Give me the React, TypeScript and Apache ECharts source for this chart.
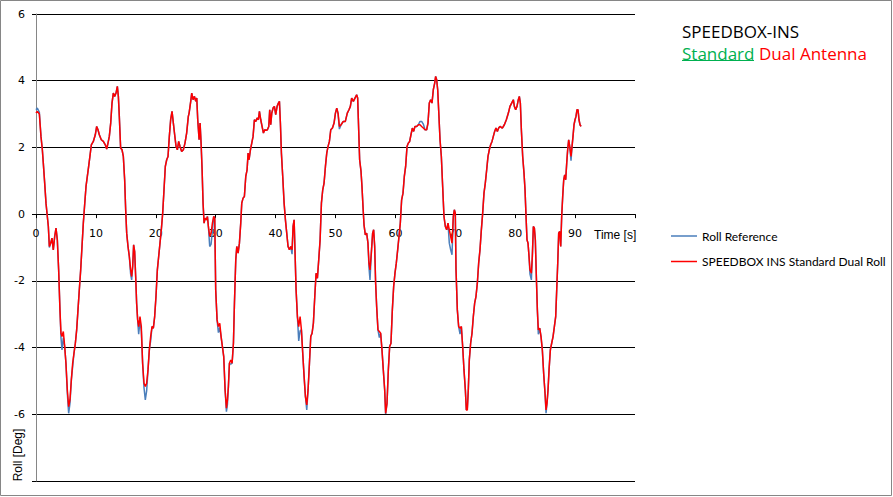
import { useEffect, useRef } from "react";
import * as echarts from "echarts";

// Time [s]
const times = [
  0, 0.22, 0.56, 0.83, 1.06, 1.22, 1.45, 1.67, 1.89, 2.06,
  2.23, 2.45, 2.67, 2.89, 3.12, 3.34, 3.56, 3.78, 4.0, 4.17,
  4.34, 4.56, 4.79, 5.0, 5.23, 5.45, 5.67, 5.9, 6.12, 6.34,
  6.57, 6.79, 7.01, 7.23, 7.46, 7.68, 7.9, 8.1, 8.35, 8.57,
  8.79, 9.0, 9.24, 9.57, 9.9, 10.13, 10.35, 10.57, 10.9, 11.24,
  11.57, 11.8, 12.02, 12.24, 12.47, 12.69, 12.91, 13.13, 13.36, 13.58,
  13.75, 13.91, 14.13, 14.36, 14.58, 14.8, 14.97, 15.14, 15.36, 15.58,
  15.8, 15.97, 16.14, 16.3, 16.47, 16.64, 16.8, 16.97, 17.14, 17.36,
  17.58, 17.8, 18.03, 18.25, 18.47, 18.7, 18.92, 19.14, 19.37, 19.59,
  19.81, 20.03, 20.26, 20.48, 20.7, 20.92, 21.15, 21.37, 21.59, 21.82,
  22.04, 22.26, 22.48, 22.71, 22.93, 23.15, 23.38, 23.6, 23.82, 24.04,
  24.32, 24.6, 24.87, 25.15, 25.43, 25.56, 25.83, 26.0, 26.22, 26.45,
  26.67, 26.84, 27.0, 27.23, 27.39, 27.56, 27.73, 27.89, 28.06, 28.23,
  28.45, 28.62, 28.78, 29.0, 29.23, 29.45, 29.67, 29.84, 30.0, 30.23,
  30.45, 30.68, 30.9, 31.12, 31.34, 31.57, 31.79, 31.96, 32.12, 32.29,
  32.51, 32.74, 32.96, 33.13, 33.35, 33.52, 33.74, 33.96, 34.18, 34.35,
  34.57, 34.79, 35.02, 35.24, 35.41, 35.57, 35.8, 36.02, 36.24, 36.46,
  36.69, 36.91, 37.13, 37.3, 37.52, 37.74, 37.97, 38.19, 38.41, 38.63,
  38.86, 39.02, 39.19, 39.36, 39.58, 39.8, 40.02, 40.25, 40.47, 40.64,
  40.8, 40.97, 41.19, 41.42, 41.64, 41.86, 42.08, 42.31, 42.53, 42.75,
  42.92, 43.09, 43.25, 43.42, 43.64, 43.86, 44.09, 44.31, 44.53, 44.76,
  44.98, 45.2, 45.42, 45.65, 45.87, 46.09, 46.31, 46.54, 46.76, 46.98,
  47.2, 47.43, 47.65, 47.87, 48.09, 48.32, 48.54, 48.76, 48.98, 49.21,
  49.49, 49.76, 49.99, 50.21, 50.43, 50.65, 50.93, 51.3, 51.64, 51.97,
  52.25, 52.48, 52.7, 52.98, 53.25, 53.53, 53.7, 53.87, 54.03, 54.26,
  54.42, 54.59, 54.76, 54.98, 55.2, 55.42, 55.59, 55.76, 55.98, 56.2,
  56.37, 56.54, 56.7, 56.87, 57.09, 57.32, 57.54, 57.76, 57.98, 58.21,
  58.37, 58.6, 58.82, 59.04, 59.26, 59.49, 59.71, 59.93, 60.15, 60.38,
  60.6, 60.82, 61.04, 61.27, 61.49, 61.71, 61.94, 62.16, 62.38, 62.6,
  62.83, 63.05, 63.27, 63.55, 63.83, 64.11, 64.38, 64.66, 64.94, 65.22,
  65.44, 65.66, 65.89, 66.11, 66.33, 66.56, 66.72, 66.89, 67.06, 67.22,
  67.45, 67.67, 67.89, 68.11, 68.34, 68.56, 68.78, 69.0, 69.23, 69.45,
  69.67, 69.84, 70.0, 70.12, 70.34, 70.56, 70.79, 71.01, 71.23, 71.45,
  71.68, 71.84, 72.01, 72.17, 72.34, 72.56, 72.79, 73.01, 73.23, 73.45,
  73.68, 73.9, 74.12, 74.35, 74.57, 74.79, 75.01, 75.24, 75.46, 75.68,
  75.9, 76.13, 76.35, 76.57, 76.79, 77.02, 77.24, 77.46, 77.85, 78.19,
  78.52, 78.86, 79.13, 79.41, 79.69, 79.86, 80.08, 80.3, 80.52, 80.69,
  80.86, 81.03, 81.25, 81.47, 81.64, 81.81, 81.97, 82.14, 82.31, 82.47,
  82.7, 82.86, 83.03, 83.2, 83.36, 83.53, 83.7, 83.86, 84.09, 84.31,
  84.53, 84.75, 84.98, 85.15, 85.31, 85.48, 85.65, 85.87, 86.09, 86.32,
  86.54, 86.76, 86.93, 87.1, 87.26, 87.43, 87.6, 87.76, 87.93, 88.1,
  88.26, 88.43, 88.6, 88.76, 88.93, 89.1, 89.32, 89.49, 89.65, 89.82,
  89.99, 90.15, 90.32, 90.49, 90.65, 90.82, 90.99,
];

// Roll Reference [Deg]
const refRoll = [
  3.13, 3.18, 3.05, 2.33, 1.93, 1.53, 0.93, 0.33, -0.07, -0.37,
  -1.0, -0.87, -0.72, -1.07, -0.67, -0.42, -0.77, -1.67, -2.87, -3.7,
  -4.07, -3.7, -3.97, -4.47, -5.37, -5.97, -5.67, -4.97, -4.57, -4.17,
  -3.87, -3.47, -2.87, -2.27, -1.67, -0.97, -0.27, 0.23, 0.83, 1.13,
  1.43, 1.73, 2.08, 2.18, 2.38, 2.63, 2.53, 2.38, 2.23, 2.18,
  2.08, 1.95, 2.13, 2.33, 2.73, 3.33, 3.63, 3.53, 3.63, 3.83,
  3.53, 2.93, 1.98, 1.93, 1.73, 1.03, 0.13, -0.57, -0.97, -1.27,
  -1.8, -1.97, -1.57, -0.92, -1.12, -1.87, -2.67, -3.17, -3.6, -3.2,
  -3.5, -4.47, -5.2, -5.57, -5.3, -4.67, -4.07, -3.8, -3.37, -3.42,
  -3.07, -2.47, -1.67, -1.27, -0.87, -0.47, 0.03, 0.73, 1.43, 1.63,
  1.73, 2.33, 2.83, 3.08, 2.73, 2.38, 2.03, 1.93, 2.18, 2.03,
  1.88, 1.93, 2.13, 2.43, 2.93, 3.03, 3.38, 3.63, 3.43, 3.53,
  3.38, 3.48, 2.83, 2.23, 2.73, 2.13, 1.33, 0.33, -0.27, -0.12,
  -0.17, -0.07, -0.37, -0.97, -0.9, -0.5, -0.07, -0.12, -2.27, -3.17,
  -3.55, -3.4, -3.67, -3.97, -4.27, -5.27, -5.92, -5.7, -5.17, -4.47,
  -4.5, -4.47, -3.87, -2.67, -1.37, -0.97, -1.17, -0.87, -0.27, 0.33,
  0.48, 0.53, 1.13, 1.33, 1.83, 1.63, 1.93, 2.13, 2.33, 2.83,
  2.78, 2.88, 2.83, 3.08, 2.83, 2.63, 2.43, 2.53, 2.51, 2.53,
  2.63, 3.13, 2.68, 3.03, 3.18, 3.23, 2.98, 3.23, 3.33, 3.38,
  2.73, 1.83, 1.13, 0.33, -0.17, -0.57, -0.97, -1.07, -0.97, -1.2,
  -0.37, -0.17, -1.17, -2.27, -3.07, -3.8, -3.5, -3.47, -4.17, -4.87,
  -5.47, -5.87, -5.27, -4.47, -3.67, -3.57, -3.27, -2.47, -1.77, -1.92,
  -1.37, -0.77, 0.33, 0.73, 0.93, 1.43, 1.83, 2.03, 2.18, 2.53,
  2.58, 2.73, 3.03, 3.18, 3.0, 2.55, 2.68, 2.78, 2.78, 3.03,
  3.13, 3.23, 3.48, 3.38, 3.48, 3.58, 3.48, 2.53, 1.63, 1.28,
  0.83, 0.23, -0.32, -0.62, -0.57, -0.87, -1.6, -1.97, -1.17, -0.57,
  -0.47, -0.97, -2.07, -2.77, -3.47, -3.7, -3.57, -4.07, -4.67, -5.27,
  -5.99, -5.67, -4.67, -3.97, -3.87, -2.87, -2.17, -1.77, -1.47, -1.07,
  -0.67, -0.27, 0.43, 0.63, 1.13, 1.43, 2.03, 2.13, 2.18, 2.38,
  2.58, 2.48, 2.63, 2.63, 2.68, 2.78, 2.78, 2.7, 2.53, 2.53,
  2.73, 3.33, 3.43, 3.33, 3.73, 3.93, 4.13, 4.03, 3.73, 3.13,
  2.23, 1.73, 0.83, -0.07, -0.37, -0.47, -0.27, -0.87, -1.07, -1.22,
  -0.07, 0.13, 0.03, -1.67, -2.87, -3.37, -3.6, -3.37, -3.97, -4.67,
  -5.27, -5.87, -5.8, -5.27, -4.37, -3.87, -3.57, -3.07, -2.67, -2.47,
  -2.07, -1.47, -1.07, -0.47, 0.03, 0.63, 0.93, 1.33, 1.73, 1.93,
  2.08, 2.18, 2.33, 2.48, 2.58, 2.48, 2.58, 2.63, 2.58, 2.68,
  2.83, 3.03, 3.23, 3.33, 3.43, 3.23, 3.13, 3.23, 3.43, 3.53,
  3.33, 2.53, 1.73, 1.23, 0.73, -0.07, -0.77, -0.87, -1.27, -1.8,
  -1.97, -1.27, -0.37, -0.42, -0.77, -1.87, -2.87, -3.6, -3.42, -3.67,
  -4.07, -4.77, -5.37, -5.97, -5.67, -5.27, -4.67, -4.07, -3.87, -3.67,
  -3.37, -3.07, -2.27, -1.47, -0.57, -0.52, -0.97, -0.07, 0.53, 1.03,
  1.18, 1.03, 1.53, 1.93, 2.23, 2.03, 1.6, 2.03, 2.33, 2.68,
  2.83, 2.93, 3.13, 3.13, 2.83, 2.68, 2.63,
];

// SPEEDBOX INS Standard Dual Roll [Deg]
const insRoll = [
  3.03, 3.08, 3.0, 2.33, 1.93, 1.53, 0.93, 0.33, -0.07, -0.37,
  -0.97, -0.87, -0.72, -1.07, -0.67, -0.42, -0.77, -1.67, -2.87, -3.57,
  -3.67, -3.52, -3.97, -4.47, -5.27, -5.77, -5.57, -4.97, -4.47, -4.17,
  -3.87, -3.47, -2.87, -2.27, -1.67, -0.97, -0.27, 0.23, 0.83, 1.13,
  1.43, 1.73, 2.08, 2.18, 2.38, 2.63, 2.53, 2.38, 2.23, 2.18,
  2.08, 1.95, 2.13, 2.33, 2.73, 3.33, 3.63, 3.53, 3.63, 3.83,
  3.53, 2.93, 1.98, 1.93, 1.73, 1.03, 0.13, -0.57, -0.97, -1.27,
  -1.67, -1.87, -1.57, -0.92, -1.12, -1.87, -2.67, -3.17, -3.37, -3.07,
  -3.37, -4.47, -5.07, -5.17, -5.07, -4.67, -4.07, -3.67, -3.37, -3.42,
  -3.07, -2.47, -1.67, -1.27, -0.87, -0.47, 0.03, 0.73, 1.43, 1.63,
  1.73, 2.33, 2.83, 3.08, 2.73, 2.38, 2.03, 1.93, 2.18, 2.03,
  1.88, 1.93, 2.13, 2.43, 2.93, 3.03, 3.38, 3.63, 3.43, 3.53,
  3.38, 3.48, 2.83, 2.23, 2.73, 2.13, 1.33, 0.33, -0.27, -0.12,
  -0.17, -0.07, -0.37, -0.67, -0.57, -0.27, -0.07, -0.12, -2.27, -3.17,
  -3.37, -3.27, -3.67, -3.97, -4.27, -5.27, -5.82, -5.57, -5.17, -4.47,
  -4.37, -4.47, -3.87, -2.67, -1.37, -0.97, -1.17, -0.87, -0.27, 0.33,
  0.48, 0.53, 1.13, 1.33, 1.83, 1.63, 1.93, 2.13, 2.33, 2.83,
  2.78, 2.88, 2.83, 3.08, 2.83, 2.63, 2.43, 2.53, 2.51, 2.53,
  2.63, 3.13, 2.68, 3.03, 3.18, 3.23, 2.98, 3.23, 3.33, 3.38,
  2.73, 1.83, 1.13, 0.33, -0.17, -0.57, -0.97, -1.07, -0.97, -1.07,
  -0.37, -0.17, -1.17, -2.27, -3.07, -3.37, -3.07, -3.47, -4.17, -4.87,
  -5.47, -5.72, -5.27, -4.47, -3.67, -3.57, -3.27, -2.47, -1.77, -1.92,
  -1.37, -0.77, 0.33, 0.73, 0.93, 1.43, 1.83, 2.03, 2.18, 2.53,
  2.58, 2.73, 3.03, 3.18, 3.03, 2.63, 2.68, 2.78, 2.78, 3.03,
  3.13, 3.23, 3.48, 3.38, 3.48, 3.58, 3.48, 2.53, 1.63, 1.28,
  0.83, 0.23, -0.32, -0.62, -0.57, -0.87, -1.47, -1.67, -1.17, -0.57,
  -0.47, -0.97, -2.07, -2.77, -3.47, -3.52, -3.57, -4.07, -4.67, -5.27,
  -5.97, -5.67, -4.67, -3.97, -3.87, -2.87, -2.17, -1.77, -1.47, -1.07,
  -0.67, -0.27, 0.43, 0.63, 1.13, 1.43, 2.03, 2.13, 2.18, 2.38,
  2.58, 2.48, 2.63, 2.63, 2.68, 2.68, 2.63, 2.58, 2.53, 2.53,
  2.73, 3.33, 3.43, 3.33, 3.73, 3.93, 4.13, 4.03, 3.73, 3.13,
  2.23, 1.73, 0.83, -0.07, -0.37, -0.47, -0.27, -0.47, -0.67, -0.87,
  -0.07, 0.13, 0.03, -1.67, -2.87, -3.37, -3.42, -3.37, -3.97, -4.67,
  -5.27, -5.87, -5.87, -5.27, -4.37, -3.87, -3.57, -3.07, -2.67, -2.47,
  -2.07, -1.47, -1.07, -0.47, 0.03, 0.63, 0.93, 1.33, 1.73, 1.93,
  2.08, 2.18, 2.33, 2.48, 2.58, 2.48, 2.58, 2.63, 2.58, 2.68,
  2.83, 3.03, 3.23, 3.33, 3.43, 3.23, 3.13, 3.23, 3.43, 3.53,
  3.33, 2.53, 1.73, 1.23, 0.73, -0.07, -0.77, -0.87, -1.27, -1.67,
  -1.77, -1.27, -0.37, -0.42, -0.77, -1.87, -2.87, -3.47, -3.42, -3.67,
  -4.07, -4.77, -5.37, -5.87, -5.67, -5.27, -4.67, -4.07, -3.87, -3.67,
  -3.37, -3.07, -2.27, -1.47, -0.57, -0.52, -0.97, -0.07, 0.53, 1.03,
  1.18, 1.03, 1.53, 1.93, 2.23, 2.03, 1.73, 2.03, 2.33, 2.68,
  2.83, 2.93, 3.13, 3.13, 2.83, 2.68, 2.63,
];

const seriesNames = ["Roll Reference", "SPEEDBOX INS Standard Dual Roll"];
const titleLine1 = "SPEEDBOX-INS";
const titleGreen = "Standard";
const titleRed = "Dual Antenna";
const xAxisTitle = "Time [s]";
const yAxisTitle = "Roll [Deg]";

const Y_MIN = -8;
const Y_MAX = 6;
const GRID_TOP = 14;
const GRID_BOTTOM = 16;
const CHART_H = 497;

export default function App() {
  const ref = useRef<HTMLDivElement>(null);

  useEffect(() => {
    if (!ref.current) return;
    const chart = echarts.init(ref.current, null, { renderer: "svg" });
    const refData = times.map((t, i) => [t, refRoll[i]]);
    const insData = times.map((t, i) => [t, insRoll[i]]);

    // place the x axis on y = 0 (as in the original) by offsetting it from the bottom edge
    const plotH = CHART_H - GRID_TOP - GRID_BOTTOM;
    const zeroOffset = -(plotH * (0 - Y_MIN)) / (Y_MAX - Y_MIN);

    chart.setOption({
      animation: false,
      backgroundColor: "#ffffff",
      grid: {
        left: 36,
        right: 258,
        top: GRID_TOP,
        bottom: GRID_BOTTOM,
        containLabel: false,
        outerBoundsMode: "none",
      },
      xAxis: {
        type: "value",
        min: 0,
        max: 100,
        interval: 10,
        offset: zeroOffset,
        axisLine: { show: true, onZero: false, lineStyle: { color: "#000", width: 1 } },
        axisTick: { show: true, length: 4, lineStyle: { color: "#000" } },
        axisLabel: {
          margin: 14,
          color: "#000",
          fontFamily: "DejaVu Sans",
          fontSize: 11,
          formatter: (v: number) => (v === 100 ? "" : String(v)),
        },
        splitLine: { show: false },
      },
      yAxis: {
        type: "value",
        min: Y_MIN,
        max: Y_MAX,
        interval: 2,
        axisLine: { show: true, onZero: false, lineStyle: { color: "#868686", width: 1 } },
        axisTick: { show: true, length: 4, lineStyle: { color: "#000" } },
        axisLabel: {
          margin: 11,
          color: "#000",
          fontFamily: "DejaVu Sans",
          fontSize: 11,
          formatter: (v: number) => (v === -8 ? "" : String(v)),
        },
        splitLine: { show: true, lineStyle: { color: "#000", width: 1 } },
      },
      legend: {
        orient: "vertical",
        left: 671,
        top: 230,
        padding: 0,
        icon: "rect",
        itemWidth: 26,
        itemHeight: 1.5,
        itemGap: 13.5,
        textStyle: { fontFamily: "Lato", fontSize: 12, color: "#000" },
        data: seriesNames,
      },
      series: [
        {
          name: seriesNames[0],
          type: "line",
          data: refData,
          symbol: "none",
          showSymbol: false,
          lineStyle: { color: "#4A7EBB", width: 1.5 },
          itemStyle: { color: "#4A7EBB" },
        },
        {
          name: seriesNames[1],
          type: "line",
          data: insData,
          symbol: "none",
          showSymbol: false,
          lineStyle: { color: "#FF0000", width: 1.5 },
          itemStyle: { color: "#FF0000" },
        },
      ],
      graphic: [
        {
          type: "rect",
          silent: true,
          z: 100,
          shape: { x: 0.5, y: 0.5, width: 891, height: 495 },
          style: { fill: "none", stroke: "#868686", lineWidth: 1 },
        },
        {
          type: "text",
          x: 682,
          y: 31,
          style: {
            text: titleLine1,
            fontFamily: "Open Sans",
            fontSize: 17,
            fill: "#000",
            verticalAlign: "middle",
          },
        },
        {
          type: "text",
          x: 682,
          y: 53,
          style: {
            text: titleGreen,
            fontFamily: "Open Sans",
            fontSize: 17,
            fill: "#00B050",
            verticalAlign: "middle",
          },
        },
        {
          type: "line",
          shape: { x1: 682, y1: 60.5, x2: 754, y2: 60.5 },
          style: { stroke: "#00B050", lineWidth: 1 },
        },
        {
          type: "text",
          x: 759,
          y: 53,
          style: {
            text: titleRed,
            fontFamily: "Open Sans",
            fontSize: 17,
            fill: "#FF0000",
            verticalAlign: "middle",
          },
        },
        {
          type: "text",
          x: 594,
          y: 235,
          style: {
            text: xAxisTitle,
            fontFamily: "Liberation Sans",
            fontSize: 12,
            fill: "#000",
            verticalAlign: "middle",
          },
        },
        {
          type: "text",
          x: 18,
          y: 455,
          rotation: Math.PI / 2,
          style: {
            text: yAxisTitle,
            fontFamily: "Liberation Sans",
            fontSize: 12,
            fill: "#000",
            align: "center",
            verticalAlign: "middle",
          },
        },
      ],
    });

    return () => {
      chart.dispose();
    };
  }, []);

  return (
    <div
      ref={ref}
      style={{
        position: "fixed",
        left: 0,
        top: 0,
        width: 893,
        height: 497,
        background: "#fff",
      }}
    />
  );
}
